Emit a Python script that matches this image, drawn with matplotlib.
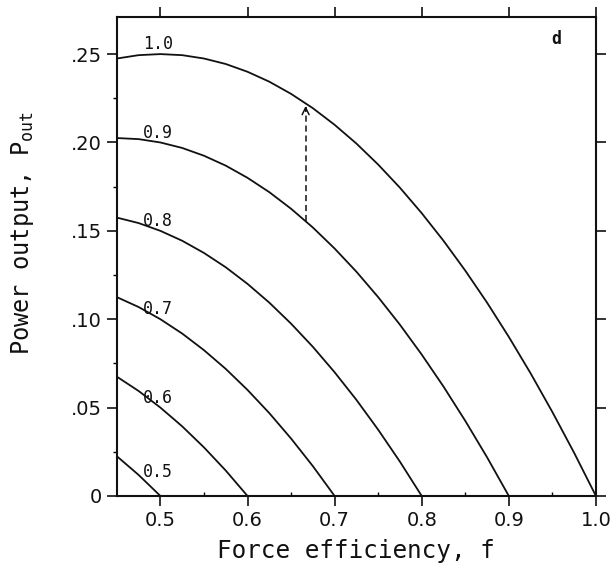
import matplotlib
matplotlib.use("Agg")
import matplotlib.pyplot as plt
from matplotlib.ticker import FixedLocator, FixedFormatter

# ---- data ----
f_grid = [0.45, 0.475, 0.5, 0.525, 0.55, 0.575, 0.6, 0.625, 0.65, 0.675, 0.7,
          0.725, 0.75, 0.775, 0.8, 0.825, 0.85, 0.875, 0.9, 0.925, 0.95, 0.975, 1.0]

curve_labels = ["1.0", "0.9", "0.8", "0.7", "0.6", "0.5"]

p_10 = [0.2475, 0.2494, 0.25, 0.2494, 0.2475, 0.2444, 0.24, 0.2344, 0.2275, 0.2194,
        0.21, 0.1994, 0.1875, 0.1744, 0.16, 0.1444, 0.1275, 0.1094, 0.09, 0.0694,
        0.0475, 0.0244, 0.0]
p_09 = [0.2025, 0.2019, 0.2, 0.1969, 0.1925, 0.1869, 0.18, 0.1719, 0.1625, 0.1519,
        0.14, 0.1269, 0.1125, 0.0969, 0.08, 0.0619, 0.0425, 0.0219, 0.0]
p_08 = [0.1575, 0.1544, 0.15, 0.1444, 0.1375, 0.1294, 0.12, 0.1094, 0.0975, 0.0844,
        0.07, 0.0544, 0.0375, 0.0194, 0.0]
p_07 = [0.1125, 0.1069, 0.1, 0.0919, 0.0825, 0.0719, 0.06, 0.0469, 0.0325, 0.0169, 0.0]
p_06 = [0.0675, 0.0594, 0.05, 0.0394, 0.0275, 0.0144, 0.0]
p_05 = [0.0225, 0.0119, 0.0]

curves = [p_10, p_09, p_08, p_07, p_06, p_05]
label_y = [0.2505, 0.2005, 0.1505, 0.1005, 0.0505, 0.0085]
label_f = 0.497

arrow_f = 0.6667
arrow_from = 0.1556
arrow_to = 0.2222

x_ticks = [0.5, 0.6, 0.7, 0.8, 0.9, 1.0]
x_ticklabels = ["0.5", "0.6", "0.7", "0.8", "0.9", "1.0"]
y_ticks = [0, 0.05, 0.10, 0.15, 0.20, 0.25]
y_ticklabels = ["0", ".05", ".10", ".15", ".20", ".25"]

# ---- figure ----
plt.rcParams['mathtext.fontset'] = 'custom'
plt.rcParams['mathtext.rm'] = 'DejaVu Sans Mono'
plt.rcParams['mathtext.it'] = 'DejaVu Sans Mono'

fig = plt.figure(figsize=(6.15, 5.64), dpi=100)
ax = fig.add_axes([0.19, 0.1206, 0.779, 0.8493])

for vals in curves:
    ax.plot(f_grid[:len(vals)], vals, color="#111111", lw=1.3, clip_on=False,
            solid_capstyle="butt")

for lab, ly in zip(curve_labels, label_y):
    ax.text(label_f, ly, lab, family="DejaVu Sans Mono", fontsize=12,
            ha="center", va="bottom", color="#111111")

ax.plot([arrow_f, arrow_f], [arrow_from, arrow_to - 0.002], color="#111111",
        lw=1.1, ls=(0, (4, 2.5)))
ax.annotate("", xy=(arrow_f, arrow_to), xytext=(arrow_f, arrow_to - 0.006),
            arrowprops=dict(arrowstyle="->,head_length=0.5,head_width=0.25",
                            color="#111111", lw=1.1))

ax.text(0.954, 0.2585, "d", family="DejaVu Sans Mono", fontsize=12,
        fontweight="bold", ha="center", va="center", color="#111111")

ax.set_xlim(0.45, 1.0)
ax.set_ylim(0, 0.271)

ax.xaxis.set_major_locator(FixedLocator(x_ticks))
ax.xaxis.set_major_formatter(FixedFormatter(x_ticklabels))
ax.yaxis.set_major_locator(FixedLocator(y_ticks))
ax.yaxis.set_major_formatter(FixedFormatter(y_ticklabels))
ax.xaxis.set_minor_locator(FixedLocator([0.55, 0.65, 0.75, 0.85, 0.95]))
ax.yaxis.set_minor_locator(FixedLocator([0.025, 0.075, 0.125, 0.175, 0.225]))

ax.tick_params(which="major", direction="out", length=7, width=1.2,
               top=True, right=True, labelsize=14, colors="#111111", pad=4)
ax.tick_params(axis="x", which="minor", direction="in", length=3, width=1.0,
               top=False, bottom=True)
ax.tick_params(axis="y", which="minor", direction="out", length=3, width=1.0,
               left=True, right=False)

for s in ax.spines.values():
    s.set_linewidth(1.5)
    s.set_color("#111111")

ax.set_xlabel("Force efficiency, f", family="DejaVu Sans Mono", fontsize=17.5,
              labelpad=6, color="#111111")
ax.set_ylabel(r"Power output, P$_{\mathrm{out}}$", family="DejaVu Sans Mono",
              fontsize=17, color="#111111")
ax.yaxis.set_label_coords(-0.168, 0.549)

fig.savefig("out.png", dpi=100)
